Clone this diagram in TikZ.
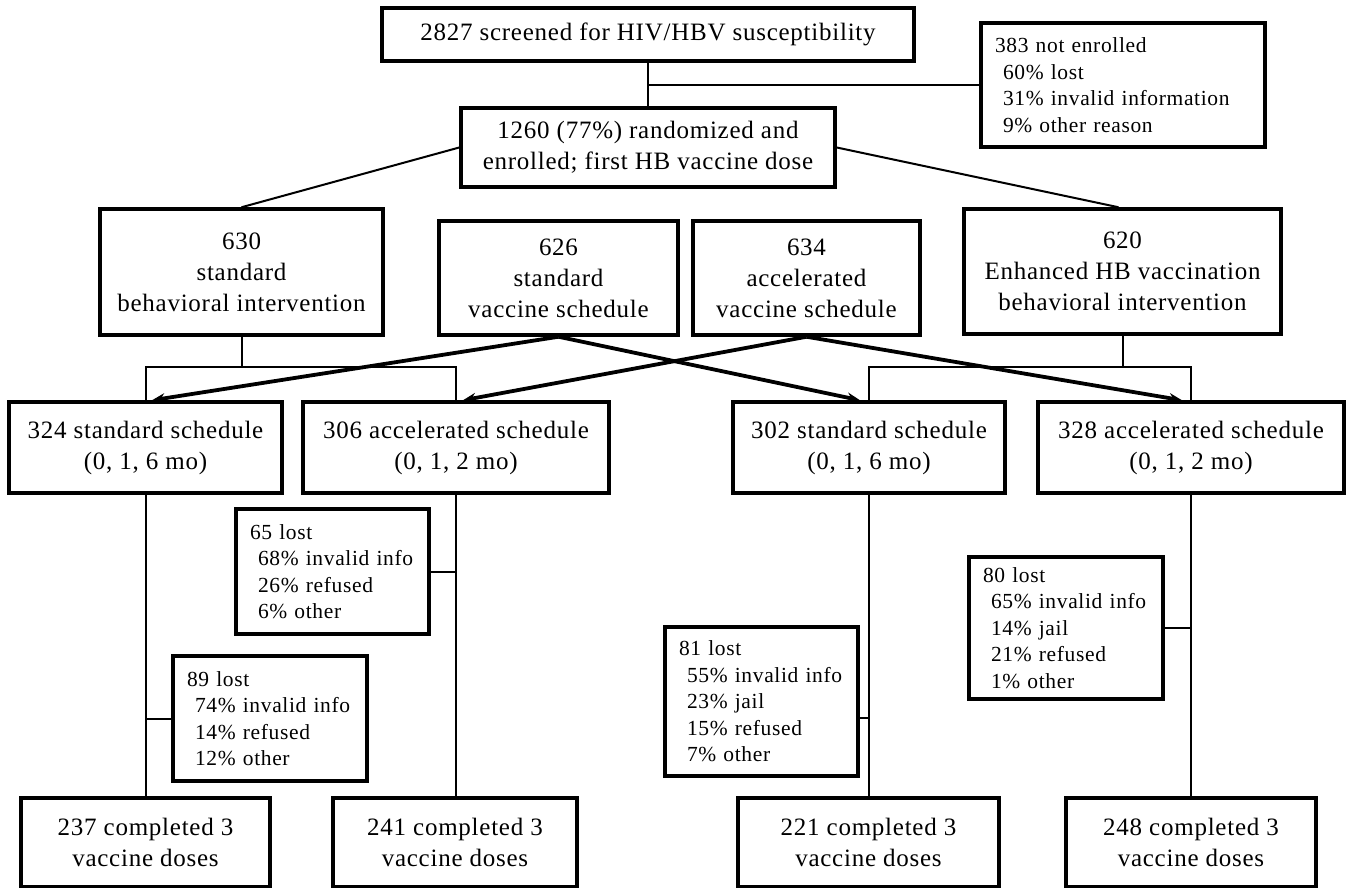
\documentclass[tikz,border=0pt]{standalone}
\usepackage{fontspec}
\setmainfont{Liberation Serif}[LetterSpace=3]
\usetikzlibrary{arrows.meta}
\begin{document}
\begin{tikzpicture}[x=1pt,y=-1pt,
  box/.style={draw, line width=3.5pt, inner sep=0pt, align=center, font=\fontsize{25}{31}\selectfont},
  note/.style={draw, line width=3.5pt, inner sep=0pt, align=left, font=\fontsize{21.5}{26.5}\selectfont},
  link/.style={line width=2pt},
  arr/.style={line width=3.8pt, -{Stealth[length=13pt,width=10pt]}}]
\useasboundingbox (0,0) rectangle (1351,888);
\newcommand\ind{\hspace*{8pt}}
% row 1
\node[box, minimum width=532, minimum height=53] (top) at (648,34.5) {2827 screened for HIV/HBV susceptibility};
\node[note, minimum width=284, minimum height=124, text width=256] (notenr) at (1123,85) {383 not enrolled\\\ind 60\% lost\\\ind 31\% invalid information\\\ind 9\% other reason};
\node[box, minimum width=374, minimum height=79] (rand) at (648,147.5) {1260 (77\%) randomized and\\enrolled; first HB vaccine dose};
% row 2
\node[box, minimum width=283, minimum height=126] (g630) at (241.5,272) {630\\standard\\behavioral intervention};
\node[box, minimum width=239, minimum height=114] (g626) at (558.5,278) {626\\standard\\vaccine schedule};
\node[box, minimum width=227, minimum height=114] (g634) at (806.5,278) {634\\accelerated\\vaccine schedule};
\node[box, minimum width=317, minimum height=125] (g620) at (1122.5,271.5) {620\\Enhanced HB vaccination\\behavioral intervention};
% row 3
\node[box, minimum width=273, minimum height=91] (s324) at (145.5,447.5) {324 standard schedule\\(0, 1, 6 mo)};
\node[box, minimum width=306, minimum height=91] (s306) at (456,447.5) {306 accelerated schedule\\(0, 1, 2 mo)};
\node[box, minimum width=272, minimum height=91] (s302) at (869,447.5) {302 standard schedule\\(0, 1, 6 mo)};
\node[box, minimum width=306, minimum height=91] (s328) at (1191,447.5) {328 accelerated schedule\\(0, 1, 2 mo)};
% losses
\node[note, minimum width=193, minimum height=125, text width=165] (n65) at (332.5,571.5) {65 lost\\\ind 68\% invalid info\\\ind 26\% refused\\\ind 6\% other};
\node[note, minimum width=194, minimum height=125, text width=166] (n89) at (270,718.5) {89 lost\\\ind 74\% invalid info\\\ind 14\% refused\\\ind 12\% other};
\node[note, minimum width=193, minimum height=149, text width=165] (n81) at (761.5,701.5) {81 lost\\\ind 55\% invalid info\\\ind 23\% jail\\\ind 15\% refused\\\ind 7\% other};
\node[note, minimum width=194, minimum height=142, text width=166] (n80) at (1066,628) {80 lost\\\ind 65\% invalid info\\\ind 14\% jail\\\ind 21\% refused\\\ind 1\% other};
% row 4
\node[box, minimum width=249, minimum height=89] (f237) at (145.5,842.5) {237 completed 3\\vaccine doses};
\node[box, minimum width=244, minimum height=89] (f241) at (455,842.5) {241 completed 3\\vaccine doses};
\node[box, minimum width=261, minimum height=89] (f221) at (868.5,842.5) {221 completed 3\\vaccine doses};
\node[box, minimum width=250, minimum height=89] (f248) at (1191,842.5) {248 completed 3\\vaccine doses};
% connectors
\coordinate (b1) at (648,85);
\draw[link] (top.south) -- (rand.north);
\draw[link] (b1) -- (notenr.west);
\draw[link] (rand.west) -- (g630.north);
\draw[link] (rand.east) -- ([xshift=-4]g620.north);
\coordinate (j1) at (241.5,367);
\coordinate (j2) at (1122.5,367);
\draw[link] (g630.south) -- (j1);
\draw[link] (s324.north) |- (j1) -| (s306.north);
\draw[link] (g620.south) -- (j2);
\draw[link] (s302.north) |- (j2) -| (s328.north);
\draw[arr] (g626.south) -- ([xshift=6.5]s324.north);
\draw[arr] (g626.south) -- ([xshift=-9]s302.north);
\draw[arr] (g634.south) -- ([xshift=7]s306.north);
\draw[arr] (g634.south) -- ([xshift=-9]s328.north);
\draw[link] (s324.south) -- (f237.north);
\draw[link] (s306.south) -- (s306.south |- f241.north);
\draw[link] (s302.south) -- (s302.south |- f221.north);
\draw[link] (s328.south) -- (f248.north);
\draw[link] (n89.west) -- (n89.west -| s324.south);
\draw[link] (n65.east) -- (n65.east -| s306.south);
\draw[link] ([yshift=-16.5]n81.east) -- ([yshift=-16.5]n81.east -| s302.south);
\draw[link] (n80.east) -- (n80.east -| s328.south);
\end{tikzpicture}
\end{document}
